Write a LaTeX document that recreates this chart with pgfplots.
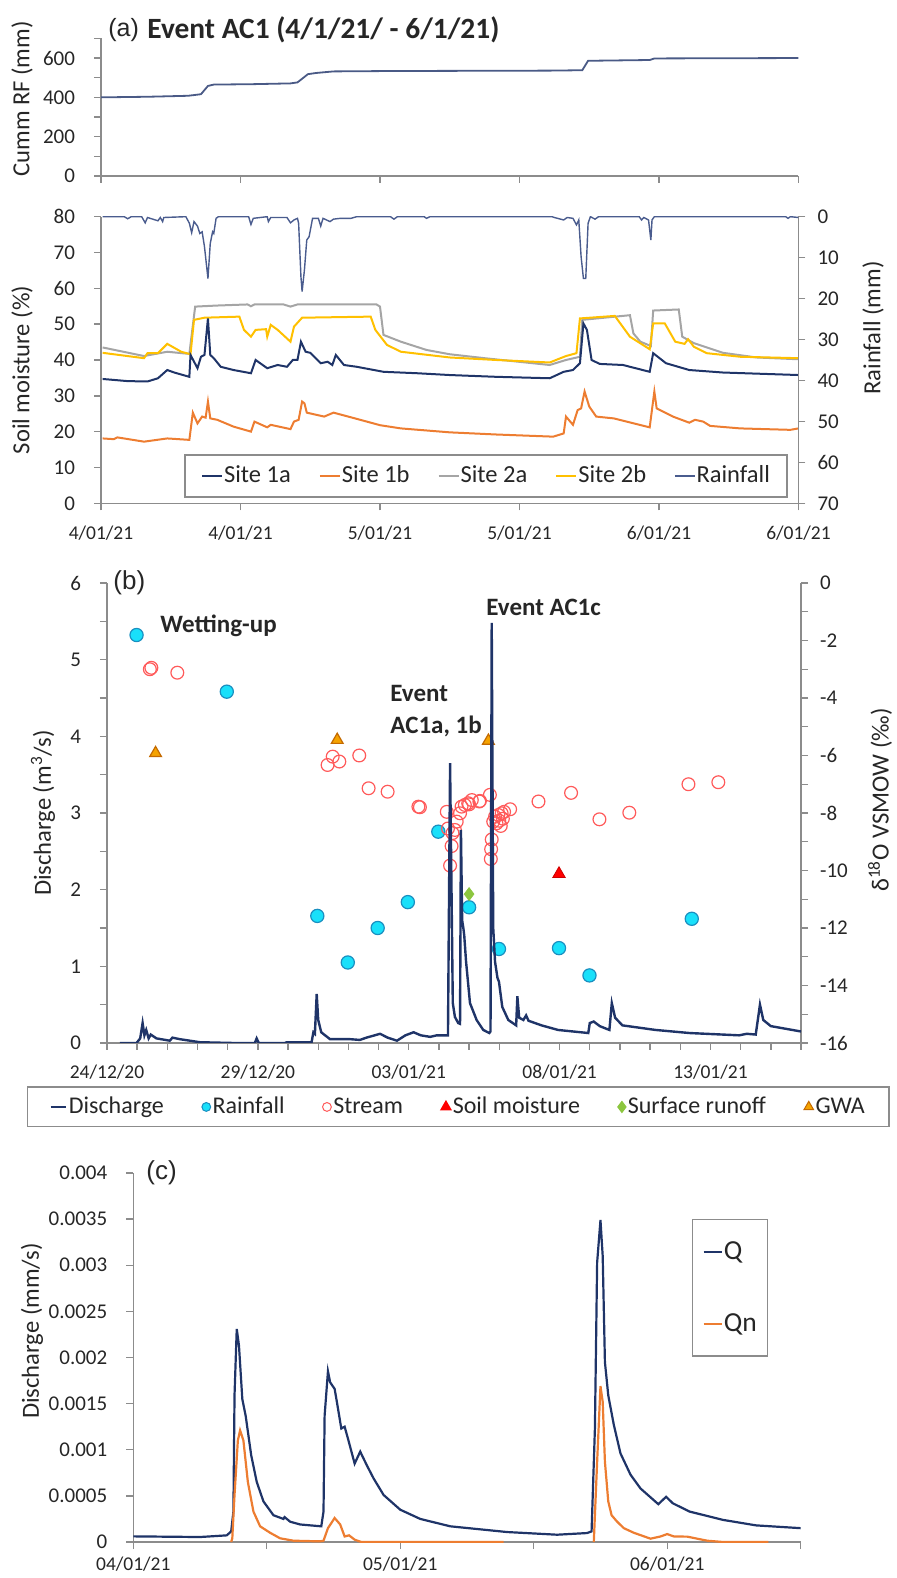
\documentclass[border=0pt]{standalone}
\usepackage{pgfplots}
\pgfplotsset{compat=1.18}
\usepackage{fontspec}
\setmainfont{Carlito}
\newfontfamily\arialfont{Liberation Sans}
\definecolor{navy}{HTML}{1F3468}
\definecolor{orng}{HTML}{ED7D31}
\definecolor{grey2a}{HTML}{A5A5A5}
\definecolor{yel}{HTML}{FFC000}
\definecolor{rainc}{HTML}{4A5C8E}
\definecolor{cummc}{HTML}{4A5A86}
\definecolor{axg}{HTML}{8C8C8C}
\definecolor{txt}{HTML}{262626}
\definecolor{cyanf}{HTML}{19E0FA}
\definecolor{cyane}{HTML}{1A8FC0}
\definecolor{strm}{HTML}{FF5A5A}
\definecolor{gwaf}{HTML}{F5A300}
\definecolor{gwae}{HTML}{C46A00}
\definecolor{grn}{HTML}{8CC63F}
\pgfplotsset{
 base/.style={scale only axis, anchor=south west,
   axis line style={draw=axg, line width=0.7pt, -},
   tick style={draw=axg, line width=0.7pt},
   tick align=outside, major tick length=3.5pt, minor tick length=3.5pt,
   tick label style={font=\fontsize{10.5pt}{12pt}\selectfont, text=txt},
   xticklabel style={yshift=-7.5pt, inner ysep=0pt},
   yticklabel style={xshift=-6pt},
   /pgf/number format/assume math mode=true,
   scaled ticks=false},
 rbase/.style={yticklabel style={xshift=8.5pt}},
 xdate/.style={xticklabel style={font=\fontsize{9.75pt}{11pt}\selectfont, text=txt}},
 lline/.style={legend image code/.code={\draw[##1] (0pt,0pt) -- (#1,0pt);}},
 lmark/.style={legend image code/.code={\draw[##1] plot coordinates {(0pt,0pt)};}},
}
\begin{document}
\begin{tikzpicture}[x=1pt,y=1pt]
\useasboundingbox (0,0) rectangle (448.5,789);

% ---------- (a) top: cumulative rainfall
\begin{axis}[base, at={(50.5pt,701pt)}, width=348.75pt, height=68.8pt,
  xmin=0, xmax=60, ymin=0, ymax=700,
  xtick={0,12,...,60}, xticklabels={},
  ytick={0,200,400,600}, minor ytick={100,300,500,700},
  axis x line*=bottom, axis y line*=left]
\addplot[cummc, line width=0.9pt] coordinates {
(0,400) (4,403) (7.5,408) (8.6,416) (9.2,458) (9.7,465) (13,467) (16.3,471) (16.9,476)
(17.8,518) (18.5,524) (20,532) (25,534) (38.6,536) (41.4,538) (41.9,586) (47.2,590)
(47.6,598) (60,600)};
\end{axis}

% ---------- (a) bottom: soil moisture
\begin{axis}[base, xdate, at={(50.5pt,537.35pt)}, width=348.75pt, height=143.3pt,
  xmin=0, xmax=60, ymin=0, ymax=80,
  xtick={0,12,...,60},
  xticklabels={4/01/21,4/01/21,5/01/21,5/01/21,6/01/21,6/01/21},
  ytick={0,10,...,80},
  axis x line*=bottom, axis y line*=left]
\addplot[grey2a, line width=1pt] coordinates {
(0.14,43.5) (3.7,41.1) (5.7,42.3) (7.6,41.7) (8.1,54.9) (10,55.2) (12.6,55.5) (12.9,55.0)
(13.2,55.5) (15.7,55.5) (16.3,54.9) (16.9,55.5) (23.7,55.5) (24.0,54.9) (24.3,47.0)
(25.8,45.1) (28.0,42.8) (30.0,41.6) (33,40.5) (38.6,38.6) (40.0,40.0) (41.2,40.9)
(41.4,51.2) (45.5,52.5) (45.8,47.4) (46.4,45.1) (47.3,43.9) (47.5,53.8) (49.7,54.1)
(50.0,46.5) (51.0,44.7) (53.5,42.0) (56.4,40.7) (60,40.2)};
\addplot[yel, line width=1pt] coordinates {
(0.14,42.0) (3.7,40.5) (4.0,41.9) (4.9,41.9) (5.7,44.5) (6.9,42.3) (7.7,41.6) (8.0,51.2)
(8.9,51.8) (11.9,52.1) (12.3,48.4) (12.9,46.5) (13.3,48.4) (14.2,48.6) (14.3,46.5)
(14.6,49.8) (15.2,48.4) (16.3,45.1) (16.6,49.3) (17.3,51.8) (23.2,52.1) (23.6,48.4)
(24.6,44.2) (25.8,42.3) (30.0,40.7) (34,40.0) (38.6,39.3) (40.0,41.1) (40.9,41.9)
(41.2,51.6) (44.2,52.3) (45.5,46.5) (47.2,43.0) (47.5,50.2) (48.5,50.2) (49.4,45.1)
(50.2,44.5) (50.5,45.8) (51.0,43.7) (52.1,41.9) (55.0,40.9) (60,40.5)};
\addplot[navy, line width=1pt] coordinates {
(0.14,34.7) (2.3,34.1) (4.0,34.0) (4.9,34.9) (5.7,37.2) (6.3,36.5) (7.6,35.3) (7.7,41.4)
(8.3,37.7) (8.6,40.9) (8.9,41.4) (9.2,51.6) (9.4,41.4) (9.7,40.5) (10.3,38.1) (11.4,37.2)
(12.9,36.3) (13.3,40.0) (14.3,37.7) (15.2,38.6) (16.0,38.1) (16.5,40.0) (16.9,40.0)
(17.2,45.1) (17.6,42.3) (18.0,42.0) (18.9,39.1) (19.5,39.5) (19.9,38.6) (20.2,41.4)
(20.9,38.6) (22.0,38.1) (24.3,36.7) (27.2,36.3) (30.0,35.8) (34,35.3) (38.6,34.9)
(39.8,36.7) (40.6,37.2) (41.2,39.1) (41.5,50.2) (41.8,48.4) (42.2,40.0) (42.9,38.9)
(44.9,38.6) (47.2,36.7) (47.5,41.9) (48.6,39.1) (50.6,37.2) (53.5,36.5) (60,35.8)};
\addplot[orng, line width=1pt] coordinates {
(0.14,18.1) (1.1,17.9) (1.4,18.4) (3.7,17.2) (5.7,18.1) (7.6,17.7) (7.9,25.3) (8.3,22.3)
(8.7,24.2) (9.0,23.9) (9.2,28.4) (9.4,23.7) (10.0,23.3) (11.4,21.4) (12.9,20.0) (13.2,22.8)
(14.3,21.2) (14.6,21.9) (16.3,20.7) (16.6,22.8) (17.0,23.3) (17.3,28.4) (17.5,27.9)
(17.7,25.3) (19.2,24.2) (20.0,25.3) (21.5,24.0) (22.3,23.3) (24.0,21.8) (25.8,20.9)
(30.0,19.8) (34,19.2) (38.9,18.6) (39.8,19.5) (40.0,24.2) (40.6,21.9) (41.0,26.0)
(41.3,26.5) (41.6,31.2) (42.0,27.0) (42.6,24.2) (44.1,23.7) (47.2,21.2) (47.6,31.2)
(47.8,26.5) (49.2,24.2) (50.6,22.5) (51.1,23.3) (51.8,22.8) (52.4,21.6) (55.0,20.9)
(59.3,20.5) (60,20.9)};
\end{axis}

\begin{axis}[base, rbase, at={(50.5pt,537.35pt)}, width=348.75pt, height=143.3pt,
  xmin=0, xmax=60, ymin=0, ymax=70, y dir=reverse,
  ytick={0,10,...,70},
  axis x line=none, axis y line*=right,
  legend columns=5,
  legend style={at={(axis description cs:0.552,0.0953)}, anchor=center,
    draw=axg, line width=0.7pt, inner xsep=8pt, inner ysep=3.5pt,
    font=\fontsize{12.25pt}{14pt}\selectfont, text=txt,
    /tikz/every even column/.append style={column sep=13.5pt},
    nodes={inner xsep=0.5pt}},
  legend image code/.code={\draw[#1] (0pt,0pt) -- (10pt,0pt);}]
\addlegendimage{navy, line width=1pt}\addlegendentry{Site 1a}
\addlegendimage{orng, line width=1pt}\addlegendentry{Site 1b}
\addlegendimage{grey2a, line width=1pt}\addlegendentry{Site 2a}
\addlegendimage{yel, line width=1pt}\addlegendentry{Site 2b}
\addplot[rainc, line width=0.7pt] coordinates {
(0.14,0) (2.0,0) (2.3,0.5) (2.6,0) (3.5,0) (3.8,1.5) (4.0,0.2) (4.9,1.0) (5.1,0.2) (5.3,1.2)
(5.4,0.2) (7.3,0) (7.6,1.6) (7.8,3.9) (8.0,1.2) (8.3,2.3) (8.5,4.1) (8.7,3.7) (8.9,7.3)
(9.2,15.1) (9.4,6.5) (9.6,3.7) (9.7,4.1) (9.9,0.4) (10.1,0) (12.7,0) (12.9,1.9) (13.1,0.4)
(14.3,0) (14.4,1.2) (14.6,0.2) (16.0,0.2) (16.3,1.5) (16.6,0.8) (16.9,0.4) (17.0,1.6)
(17.2,14.7) (17.3,18.3) (17.5,13.0) (17.7,5.7) (17.9,4.9) (18.2,0.4) (18.7,0.4) (18.9,2.3)
(19.1,0.4) (19.7,1.2) (20.0,0.6) (20.6,0.4) (21.5,0.4) (22.0,0) (24.9,0) (25.2,0.6)
(25.5,0) (27.8,0) (28.0,0.4) (28.3,0) (38.8,0) (39.0,0.2) (39.8,0.8) (40.1,0.2) (40.6,0.4)
(40.9,2.0) (41.1,0.8) (41.3,9.8) (41.5,15.1) (41.7,15.1) (41.9,1.6) (42.1,0) (42.5,0.6)
(42.8,0) (46.3,0) (46.5,0.8) (46.7,0.2) (47.1,0.8) (47.3,5.7) (47.4,0.8) (47.6,0) (58.9,0)
(59.1,0.4) (59.3,0) (60,0.2)};
\addlegendentry{Rainfall}
\end{axis}

\node[anchor=west, inner sep=0, text=txt] at (54,774) {\arialfont\fontsize{12.5pt}{14pt}\selectfont (a)};
\node[anchor=west, inner sep=0, text=txt] at (73.5,774) {\bfseries\fontsize{14.7pt}{17pt}\selectfont Event AC1 (4/1/21/ - 6/1/21)};
\node[rotate=90, text=txt, inner sep=0] at (11,739.5) {\fontsize{12.3pt}{14pt}\selectfont Cumm RF (mm)};
\node[rotate=90, text=txt, inner sep=0] at (11,604) {\fontsize{12.3pt}{14pt}\selectfont Soil moisture (\%)};
\node[rotate=90, text=txt, inner sep=0] at (436.5,625) {\fontsize{12.3pt}{14pt}\selectfont Rainfall (mm)};

% ---------- (b) isotopes (secondary axis, drawn first)
\begin{axis}[base, rbase, at={(53.5pt,267.5pt)}, width=347pt, height=230pt,
  xmin=0, xmax=23, ymin=-16, ymax=0,
  ytick={-16,-14,...,0}, minor ytick={-15,-13,...,-1},
  axis x line=none, axis y line*=right]
\addplot[only marks, mark=*, mark size=3.3pt, mark options={fill=cyanf, draw=cyane, line width=0.6pt}] coordinates {
(0.98,-1.81) (3.97,-3.78) (6.97,-11.58) (7.98,-13.2) (8.97,-12.0) (9.97,-11.1) (10.98,-8.65)
(12.0,-11.28) (12.99,-12.73) (14.98,-12.7) (15.99,-13.65) (19.38,-11.68)};
\addplot[only marks, mark=o, mark size=3.2pt, mark options={draw=strm, line width=0.6pt}] coordinates {
(1.42,-3.0) (1.47,-2.95) (2.33,-3.12) (7.31,-6.33) (7.48,-6.04) (7.7,-6.21) (8.36,-6.0)
(8.67,-7.14) (9.3,-7.26) (10.32,-7.78) (10.37,-7.8) (11.26,-7.96) (11.3,-8.54) (11.37,-9.83)
(11.42,-9.15) (11.53,-8.59) (11.59,-8.3) (11.7,-8.01) (11.75,-7.78) (11.86,-7.72) (11.97,-7.66)
(12.09,-7.55) (12.34,-7.6) (12.69,-7.37) (12.75,-8.92) (12.73,-9.26) (12.72,-9.6) (12.8,-8.3)
(12.86,-8.13) (12.97,-8.07) (13.08,-8.01) (13.16,-7.96) (13.36,-7.87) (12.91,-8.36) (13.0,-8.27)
(14.3,-7.6) (15.38,-7.3) (16.32,-8.22) (17.31,-7.99) (19.27,-7.0) (20.26,-6.93) (12.36,-7.58)
(11.45,-8.7) (12.0,-7.7) (13.05,-8.45) (13.12,-8.2)};
\addplot[only marks, mark=triangle*, mark size=3.6pt, mark options={fill=red, draw=red!80!black, line width=0.4pt}] coordinates {(14.98,-10.12)};
\addplot[only marks, mark=diamond*, mark size=3.2pt, mark options={fill=grn, draw=grn, line width=0.4pt}] coordinates {(12.0,-10.82)};
\addplot[only marks, mark=triangle*, mark size=3.4pt, mark options={fill=gwaf, draw=gwae, line width=0.6pt}] coordinates {
(1.61,-5.92) (7.63,-5.46) (12.64,-5.49)};
\end{axis}

% ---------- (b) discharge (primary axis)
\begin{axis}[base, xdate, at={(53.5pt,267.5pt)}, width=347pt, height=230pt,
  xmin=0, xmax=23, ymin=0, ymax=6,
  xtick={0,5,...,20}, xticklabels={24/12/20,29/12/20,03/01/21,08/01/21,13/01/21},
  minor xtick={1,...,23},
  ytick={0,1,...,6}, minor ytick={0.5,1.5,...,5.5},
  axis x line*=bottom, axis y line*=left,
  legend columns=6,
  legend style={at={(axis description cs:0.506,-0.139)}, anchor=center,
    draw=axg, line width=0.7pt, inner xsep=11pt, inner ysep=3pt,
    font=\fontsize{12pt}{14pt}\selectfont, text=txt,
    /tikz/every even column/.append style={column sep=18pt},
    nodes={inner xsep=1pt}}]
\addplot[navy, line width=1.2pt, lline=7.5pt] coordinates {
(0.43,0) (0.98,0) (1.1,0.06) (1.18,0.26) (1.24,0.1) (1.3,0.17) (1.38,0.06) (1.45,0.11)
(1.64,0.06) (2.08,0.03) (2.17,0.07) (2.41,0.05) (3.08,0.01) (4.18,0) (4.9,0) (4.96,0.06)
(5.03,0) (5.9,0) (5.95,0.01) (6.78,0.01) (6.84,0.14) (6.89,0.12) (6.95,0.64) (7.0,0.3)
(7.1,0.14) (7.39,0.05) (8.05,0.05) (8.38,0.04) (8.6,0.07) (9.05,0.12) (9.3,0.07) (9.61,0.03)
(9.89,0.1) (10.16,0.14) (10.4,0.1) (10.71,0.08) (10.93,0.1) (11.3,0.1) (11.37,3.65)
(11.46,0.52) (11.53,0.34) (11.64,0.26) (11.7,0.25) (11.73,2.78) (11.77,1.6) (11.81,1.5)
(11.84,1.4) (11.9,1.06) (12.03,0.52) (12.25,0.30) (12.47,0.17) (12.67,0.13) (12.71,0.15)
(12.75,5.48) (12.8,1.5) (12.86,1.06) (12.94,0.85) (12.99,0.8) (13.1,0.47) (13.3,0.30)
(13.56,0.23) (13.6,0.61) (13.66,0.33) (13.8,0.3) (13.89,0.36) (13.97,0.29) (14.4,0.23)
(14.95,0.17) (15.95,0.13) (16.0,0.26) (16.13,0.28) (16.33,0.22) (16.65,0.17) (16.73,0.52)
(16.84,0.33) (17.08,0.23) (18.18,0.17) (19.3,0.13) (20.95,0.1) (21.2,0.12) (21.5,0.11)
(21.64,0.5) (21.75,0.3) (22.0,0.22) (23.0,0.15)};
\addlegendentry{Discharge}
\addlegendimage{only marks, mark=*, mark size=2.2pt, mark options={fill=cyanf, draw=cyane, line width=0.5pt}, lmark}\addlegendentry{Rainfall}
\addlegendimage{only marks, mark=o, mark size=2.2pt, mark options={draw=strm, line width=0.5pt}, lmark}\addlegendentry{Stream}
\addlegendimage{only marks, mark=triangle*, mark size=2.8pt, mark options={fill=red, draw=red}, lmark}\addlegendentry{Soil moisture}
\addlegendimage{only marks, mark=diamond*, mark size=2.6pt, mark options={fill=grn, draw=grn}, lmark}\addlegendentry{Surface runoff}
\addlegendimage{only marks, mark=triangle*, mark size=2.8pt, mark options={fill=gwaf, draw=gwae, line width=0.5pt}, lmark}\addlegendentry{GWA}
\end{axis}

\node[anchor=west, inner sep=0, text=txt] at (56.5,497.5) {\arialfont\fontsize{13pt}{15pt}\selectfont (b)};
\node[anchor=west, inner sep=0, text=txt] at (80,476) {\bfseries\fontsize{12.5pt}{15pt}\selectfont Wetting-up};
\node[anchor=west, inner sep=0, text=txt] at (195,442.5) {\bfseries\fontsize{12.5pt}{15pt}\selectfont Event};
\node[anchor=west, inner sep=0, text=txt] at (195,426) {\bfseries\fontsize{12.5pt}{15pt}\selectfont AC1a, 1b};
\node[anchor=west, inner sep=0, text=txt] at (243,485.5) {\bfseries\fontsize{12.5pt}{15pt}\selectfont Event AC1c};
\node[rotate=90, text=txt, inner sep=0] at (21.5,382.5) {\fontsize{12.3pt}{14pt}\selectfont Discharge (m\textsuperscript{3}/s)};
\node[rotate=90, text=txt, inner sep=0] at (440,389) {\fontsize{12.3pt}{14pt}\selectfont δ\textsuperscript{18}O VSMOW (‰)};

% ---------- (c) Q and Qn
\begin{axis}[base, xdate, at={(66.65pt,18pt)}, width=333.7pt, height=184.5pt,
  xticklabel style={yshift=3.5pt},
  xmin=0, xmax=60, ymin=0, ymax=4,
  xtick={0,24,48}, xticklabels={04/01/21,05/01/21,06/01/21}, minor xtick={12,36,60},
  ytick={0,0.5,...,4},
  yticklabels={0,0.0005,0.001,0.0015,0.002,0.0025,0.003,0.0035,0.004},
  axis x line*=bottom, axis y line*=left,
  unbounded coords=jump,
  legend cell align=left,
  legend style={at={(axis description cs:0.837,0.876)}, anchor=north west,
    draw=axg, line width=0.7pt, inner xsep=5pt, inner ysep=9pt, row sep=21.5pt,
    font=\fontsize{13.75pt}{16pt}\selectfont, text=txt, nodes={inner xsep=0.5pt}},
  legend image code/.code={\draw[#1] (0pt,0pt) -- (9pt,0pt);}]
\addplot[navy, line width=1.1pt] coordinates {
(0,0.061) (6.0,0.054) (8.4,0.072) (8.8,0.115) (9.0,0.33) (9.1,1.59) (9.3,2.31) (9.5,2.13)
(9.8,1.55) (10.1,1.37) (10.6,0.94) (11.1,0.65) (11.7,0.44) (12.6,0.29) (13.5,0.25) (13.6,0.27)
(14.1,0.22) (15.0,0.19) (16.9,0.17) (17.1,0.33) (17.2,1.37) (17.5,1.85) (17.7,1.73) (18.1,1.66)
(18.3,1.52) (18.7,1.23) (19.0,1.25) (19.3,1.12) (19.9,0.85) (20.4,0.98) (21.0,0.83) (21.6,0.69)
(22.5,0.51) (24.0,0.35) (25.8,0.25) (28.5,0.17) (33.6,0.108) (38.1,0.079) (40.8,0.097)
(41.2,0.115) (41.5,1.23) (41.7,3.03) (42.0,3.49) (42.2,3.10) (42.4,1.95) (42.7,1.59)
(43.2,1.27) (43.8,0.96) (44.7,0.73) (45.6,0.58) (47.2,0.41) (47.9,0.49) (48.5,0.42)
(50.0,0.33) (53.0,0.24) (56.0,0.18) (60,0.15)};
\addlegendentry{Q}
\addplot[orng, line width=1.1pt] coordinates {
(8.8,0) (8.9,0.04) (9.1,0.51) (9.4,1.10) (9.6,1.21) (9.9,1.10) (10.3,0.65) (10.8,0.33)
(11.4,0.17) (12.3,0.10) (13.2,0.04) (14.4,0.014) (16.8,0.007) (17.1,0.014) (17.5,0.15)
(18.1,0.26) (18.6,0.19) (19.0,0.06) (19.4,0.072) (19.9,0.025) (20.5,0) (33.3,0) (33.4,nan)
(41.3,nan) (41.4,0) (41.7,0.87) (42.0,1.69) (42.2,1.52) (42.4,0.87) (42.7,0.44) (43.0,0.29)
(43.5,0.22) (44.1,0.15) (45.0,0.10) (46.5,0.036) (47.4,0.06) (48.0,0.086) (48.6,0.06)
(49.8,0.058) (51.6,0.014) (53,0) (57.1,0)};
\addlegendentry{Qn}
\end{axis}

\node[anchor=west, inner sep=0, text=txt] at (73,202.5) {\arialfont\fontsize{13pt}{15pt}\selectfont (c)};
\node[rotate=90, text=txt, inner sep=0] at (16,123.5) {\fontsize{12.3pt}{14pt}\selectfont Discharge (mm/s)};
\end{tikzpicture}
\end{document}
